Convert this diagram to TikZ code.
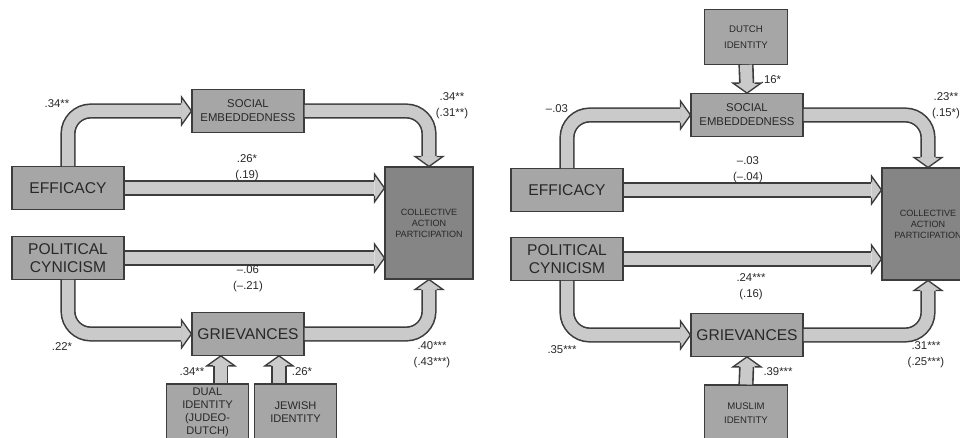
\documentclass[tikz,border=0pt]{standalone}
\usepackage{fontspec}
\setmainfont{Liberation Sans}
\usetikzlibrary{positioning}
\definecolor{boxgray}{RGB}{166,166,166}
\definecolor{capgray}{RGB}{133,133,133}
\definecolor{arrowgray}{RGB}{202,202,202}
\definecolor{linegray}{RGB}{60,60,60}
\definecolor{textgray}{RGB}{40,40,40}

\begin{document}
\begin{tikzpicture}[
	x=0.75pt, y=-0.75pt,
	% Node styles
	construct/.style={
		rectangle,
		draw=linegray,
		fill=boxgray,
		line width=0.8pt,
		minimum width=84pt,
		minimum height=32pt,
		inner sep=1pt,
		align=center,
		text=textgray,
		font=\fontsize{11.7}{14}\selectfont
	},
	smallconstruct/.style={
		construct,
		font=\fontsize{8.5}{10.5}\selectfont
	},
	outcome/.style={
		construct,
		fill=capgray,
		minimum width=66pt,
		minimum height=84pt,
		font=\fontsize{6.8}{8.3}\selectfont
	},
	identity/.style={
		construct,
		minimum width=62pt,
		minimum height=42pt,
		font=\fontsize{8.3}{9.8}\selectfont
	},
	coef/.style={
		align=center,
		inner sep=0pt,
		text=textgray,
		font=\fontsize{8.5}{12}\selectfont
	},
	fatarrow/.style={
		draw=linegray,
		line width=1.2pt,
		double=arrowgray,
		double distance=9pt,
		rounded corners=17pt,
		shorten >=7.5pt
	},
	fathead/.pic={
		\fill[arrowgray] (0,0) -- (-7.5pt,10.5pt) -- (-7.5pt,-10.5pt) -- cycle;
		\draw[linegray, line width=1pt] (-7.5pt,5.7pt) -- (-7.5pt,10.5pt) -- (0,0) -- (-7.5pt,-10.5pt) -- (-7.5pt,-5.7pt);
	}
	]
	
	\useasboundingbox (0,0) rectangle (960,438);
	\clip (0,0) rectangle (960,438);
	
	% Left model (Jewish sample)
	\node[construct] (eff) at (68,188) {EFFICACY};
	\node[smallconstruct] (soc) at (248,111) {SOCIAL\\EMBEDDEDNESS};
	\node[outcome] (cap) at (429,223) {COLLECTIVE\\ACTION\\PARTICIPATION};
	\node[construct] (cyn) at (68,258) {POLITICAL\\CYNICISM};
	\node[construct] (gri) at (248,334) {GRIEVANCES};
	\node[identity] (dual) at (207.5,412) {DUAL\\IDENTITY\\(JUDEO-\\DUTCH)};
	\node[identity] (jew) at (295.5,412) {JEWISH\\IDENTITY};
	
	\draw[fatarrow] (eff.north) |- (soc.west);
	\pic at (soc.west) {fathead};
	\draw[fatarrow] (soc.east) -| (cap.north);
	\pic[rotate=-90] at (cap.north) {fathead};
	\draw[fatarrow] (eff.east) -- (eff.east -| cap.west);
	\pic at (eff.east -| cap.west) {fathead};
	\draw[fatarrow] (cyn.east) -- (cyn.east -| cap.west);
	\pic at (cyn.east -| cap.west) {fathead};
	\draw[fatarrow] (cyn.south) |- (gri.west);
	\pic at (gri.west) {fathead};
	\draw[fatarrow] (gri.east) -| (cap.south);
	\pic[rotate=90] at (cap.south) {fathead};
	\draw[fatarrow] ([xshift=10pt]dual.north) -- ([xshift=10pt]dual.north |- gri.south);
	\pic[rotate=90] at ([xshift=10pt]dual.north |- gri.south) {fathead};
	\draw[fatarrow] ([xshift=-12.4pt]jew.north) -- ([xshift=-12.4pt]jew.north |- gri.south);
	\pic[rotate=90] at ([xshift=-12.4pt]jew.north |- gri.south) {fathead};
	
	\node[coef] (l1) at (57,104) {.34**};
	\node[coef] (l2) at (452,106) {.34**\\(.31**)};
	\node[coef] (l3) at (247,168) {.26*\\(.19)};
	\node[coef] (l4) at (248,279) {\textendash.06\\(\textendash.21)};
	\node[coef] (l5) at (62,347) {.22*};
	\node[coef] (l6) at (432,355) {.40***\\(.43***)};
	\node[coef] (l7) at (192,372) {.34**};
	\node[coef] (l8) at (302,372) {.26*};
	
	% Right model (Muslim sample)
	\node[identity, minimum height=41pt, font=\fontsize{7.2}{12}\selectfont] (dutch) at (746,37) {DUTCH\\IDENTITY};
	\node[smallconstruct] (soc2) at (747,115) {SOCIAL\\EMBEDDEDNESS};
	\node[construct] (eff2) at (567,190) {EFFICACY};
	\node[outcome, minimum width=69pt] (cap2) at (928,224) {COLLECTIVE\\ACTION\\PARTICIPATION};
	\node[construct] (cyn2) at (567,259) {POLITICAL\\CYNICISM};
	\node[construct] (gri2) at (747,335) {GRIEVANCES};
	\node[identity, font=\fontsize{7.2}{10.5}\selectfont] (muslim) at (746,413) {MUSLIM\\IDENTITY};
	
	\draw[fatarrow] (dutch.south) -- (soc2.north);
	\pic[rotate=-90] at (soc2.north) {fathead};
	\draw[fatarrow] (eff2.north) |- (soc2.west);
	\pic at (soc2.west) {fathead};
	\draw[fatarrow] (soc2.east) -| (cap2.north);
	\pic[rotate=-90] at (cap2.north) {fathead};
	\draw[fatarrow] (eff2.east) -- (eff2.east -| cap2.west);
	\pic at (eff2.east -| cap2.west) {fathead};
	\draw[fatarrow] (cyn2.east) -- (cyn2.east -| cap2.west);
	\pic at (cyn2.east -| cap2.west) {fathead};
	\draw[fatarrow] (cyn2.south) |- (gri2.west);
	\pic at (gri2.west) {fathead};
	\draw[fatarrow] (gri2.east) -| (cap2.south);
	\pic[rotate=90] at (cap2.south) {fathead};
	\draw[fatarrow] (muslim.north) -- (gri2.south);
	\pic[rotate=90] at (gri2.south) {fathead};
	
	\node[coef] (r1) at (771,80) {.16*};
	\node[coef] (r2) at (557,109) {\textendash.03};
	\node[coef] (r3) at (946,106) {.23**\\(.15*)};
	\node[coef] (r4) at (748,170) {\textendash.03\\(\textendash.04)};
	\node[coef] (r5) at (751,287) {.24***\\(.16)};
	\node[coef] (r6) at (562,350) {.35***};
	\node[coef] (r7) at (926,355) {.31***\\(.25***)};
	\node[coef] (r8) at (778,372) {.39***};
	
\end{tikzpicture}
\end{document}
